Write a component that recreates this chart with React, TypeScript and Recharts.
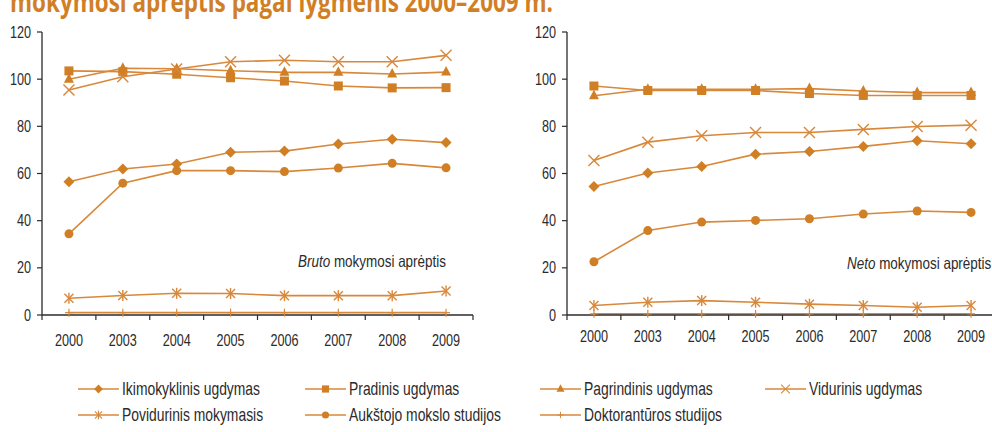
import { LineChart, Line, XAxis, YAxis } from 'recharts'

const years = ['2000', '2003', '2004', '2005', '2006', '2007', '2008', '2009']
const yTicks = [0, 20, 40, 60, 80, 100, 120]

// Bruto mokymosi aprėptis
const brutoIkimokyklinis = [56.5, 61.9, 64.0, 69.0, 69.5, 72.5, 74.5, 73.1]
const brutoPradinis = [103.5, 103.2, 102.1, 100.6, 99.2, 97.1, 96.3, 96.4]
const brutoPagrindinis = [100.0, 104.6, 104.4, 103.6, 102.9, 102.9, 102.2, 103.0]
const brutoVidurinis = [95.4, 101.0, 104.3, 107.4, 108.0, 107.4, 107.4, 110.1]
const brutoPovidurinis = [7.1, 8.3, 9.2, 9.1, 8.2, 8.2, 8.2, 10.2]
const brutoAukstojo = [34.4, 55.9, 61.2, 61.2, 60.8, 62.3, 64.3, 62.4]
const brutoDoktoranturos = [1.0, 1.0, 1.0, 1.0, 1.0, 1.0, 1.0, 1.0]

// Neto mokymosi aprėptis
const netoIkimokyklinis = [54.5, 60.2, 63.0, 68.2, 69.3, 71.5, 73.9, 72.6]
const netoPradinis = [97.1, 95.2, 95.2, 95.2, 93.9, 93.1, 93.1, 93.1]
const netoPagrindinis = [93.0, 95.7, 95.7, 95.7, 96.0, 95.0, 94.3, 94.3]
const netoVidurinis = [65.5, 73.3, 76.0, 77.4, 77.4, 78.7, 79.9, 80.5]
const netoPovidurinis = [4.0, 5.4, 6.1, 5.4, 4.6, 4.0, 3.3, 4.0]
const netoAukstojo = [22.6, 35.8, 39.4, 40.1, 40.8, 42.8, 44.1, 43.5]
const netoDoktoranturos = [0.5, 0.5, 0.5, 0.5, 0.5, 0.5, 0.5, 0.5]

const series = [
  { key: 'ikimokyklinis', name: 'Ikimokyklinis ugdymas', shape: 'diamond' },
  { key: 'pradinis', name: 'Pradinis ugdymas', shape: 'square' },
  { key: 'pagrindinis', name: 'Pagrindinis ugdymas', shape: 'triangle' },
  { key: 'vidurinis', name: 'Vidurinis ugdymas', shape: 'cross' },
  { key: 'povidurinis', name: 'Povidurinis mokymasis', shape: 'star' },
  { key: 'aukstojo', name: 'Aukštojo mokslo studijos', shape: 'circle' },
  { key: 'doktoranturos', name: 'Doktorantūros studijos', shape: 'plus' },
]

const buildData = (cols: Record<string, number[]>) =>
  years.map((year, i) => {
    const row: any = { year }
    Object.keys(cols).forEach(k => { row[k] = cols[k][i] })
    return row
  })

const brutoData = buildData({
  ikimokyklinis: brutoIkimokyklinis, pradinis: brutoPradinis, pagrindinis: brutoPagrindinis,
  vidurinis: brutoVidurinis, povidurinis: brutoPovidurinis, aukstojo: brutoAukstojo, doktoranturos: brutoDoktoranturos,
})
const netoData = buildData({
  ikimokyklinis: netoIkimokyklinis, pradinis: netoPradinis, pagrindinis: netoPagrindinis,
  vidurinis: netoVidurinis, povidurinis: netoPovidurinis, aukstojo: netoAukstojo, doktoranturos: netoDoktoranturos,
})

const ORANGE = '#d17f25'
const LINE = '#d8883a'
const TEXT = '#2b2b2b'
// no condensed font installed, so Liberation Sans gets squeezed horizontally
const FONT = "'Liberation Sans', Arial, sans-serif"
const SQUEEZE = 0.79
const CHART_W = 480
const Y_W = 42
const RIGHT_M = 7
const BAND = (CHART_W - Y_W - RIGHT_M) / years.length

function Marker({ shape, cx, cy }: { shape: string; cx: number; cy: number }) {
  switch (shape) {
    case 'diamond':
      return <polygon points={`${cx},${cy - 5.5} ${cx + 5.5},${cy} ${cx},${cy + 5.5} ${cx - 5.5},${cy}`} fill={ORANGE} />
    case 'square':
      return <rect x={cx - 4.5} y={cy - 4.5} width={9} height={9} fill={ORANGE} />
    case 'triangle':
      return <polygon points={`${cx},${cy - 6} ${cx + 5},${cy + 3.5} ${cx - 5},${cy + 3.5}`} fill={ORANGE} />
    case 'cross':
      return (
        <g stroke={LINE} strokeWidth={1.4}>
          <line x1={cx - 5.5} y1={cy - 5.5} x2={cx + 5.5} y2={cy + 5.5} />
          <line x1={cx - 5.5} y1={cy + 5.5} x2={cx + 5.5} y2={cy - 5.5} />
        </g>
      )
    case 'star':
      return (
        <g stroke={LINE} strokeWidth={1.4}>
          <line x1={cx - 4.5} y1={cy - 4.5} x2={cx + 4.5} y2={cy + 4.5} />
          <line x1={cx - 4.5} y1={cy + 4.5} x2={cx + 4.5} y2={cy - 4.5} />
          <line x1={cx} y1={cy - 5.5} x2={cx} y2={cy + 5.5} />
        </g>
      )
    case 'circle':
      return <circle cx={cx} cy={cy} r={4.5} fill={ORANGE} />
    case 'plus':
      return (
        <g stroke={LINE} strokeWidth={1.2}>
          <line x1={cx} y1={cy - 4} x2={cx} y2={cy + 4} />
          <line x1={cx - 4} y1={cy} x2={cx + 4} y2={cy} />
        </g>
      )
    default:
      return null
  }
}

const XTick = (props: any) => {
  const { x, y, payload, index, dy } = props
  const axisY = y - 6
  return (
    <g>
      <line x1={x - BAND / 2} y1={axisY} x2={x - BAND / 2} y2={axisY + 5} stroke={TEXT} strokeWidth={1.2} />
      {index === years.length - 1 && (
        <line x1={x + BAND / 2} y1={axisY} x2={x + BAND / 2} y2={axisY + 5} stroke={TEXT} strokeWidth={1.2} />
      )}
      <text transform={`translate(${x},${y + dy}) scale(${SQUEEZE},1)`} textAnchor="middle" fill={TEXT} fontSize={16} fontFamily={FONT}>
        {payload.value}
      </text>
    </g>
  )
}

const YTick = (props: any) => {
  const { x, y, payload } = props
  return (
    <text transform={`translate(${x},${y + 5.5}) scale(${SQUEEZE},1)`} textAnchor="end" fill={TEXT} fontSize={16} fontFamily={FONT}>
      {payload.value}
    </text>
  )
}

function Panel({ data, left, label, italic, labelX, labelY, tickDy }: any) {
  return (
    <div style={{ position: 'absolute', left, top: 0 }}>
      <LineChart width={CHART_W} height={360} data={data} margin={{ top: 32, right: RIGHT_M, left: 0, bottom: 15 }}>
        <XAxis
          dataKey="year"
          scale="band"
          interval={0}
          height={30}
          tickSize={6}
          tickMargin={0}
          tickLine={false}
          axisLine={{ stroke: TEXT, strokeWidth: 1.3 }}
          tick={<XTick dy={tickDy} />}
        />
        <YAxis
          domain={[0, 120]}
          ticks={yTicks}
          width={Y_W}
          tickSize={5}
          tickMargin={6}
          axisLine={{ stroke: TEXT, strokeWidth: 1.3 }}
          tickLine={{ stroke: TEXT, strokeWidth: 1.2 }}
          tick={<YTick />}
        />
        {series.map(s => (
          <Line
            key={s.key}
            dataKey={s.key}
            name={s.name}
            stroke={LINE}
            strokeWidth={1.6}
            isAnimationActive={false}
            dot={(p: any) => <Marker key={`${s.key}-${p.index}`} shape={s.shape} cx={p.cx} cy={p.cy} />}
            activeDot={false}
          />
        ))}
      </LineChart>
      <div style={{ position: 'absolute', left: labelX, top: labelY, fontFamily: FONT, fontSize: 16.5, color: TEXT, whiteSpace: 'nowrap', transform: 'scaleX(0.815)', transformOrigin: 'left center' }}>
        <i>{italic}</i> {label}
      </div>
    </div>
  )
}

const legendPos = [
  { x: 78, y: 389 }, { x: 305, y: 389 }, { x: 540, y: 389 }, { x: 765, y: 389 },
  { x: 78, y: 415 }, { x: 305, y: 415 }, { x: 540, y: 415 },
]

export default function App() {
  return (
    <div style={{ position: 'absolute', left: 0, top: 0, width: 992, height: 432, overflow: 'hidden', background: '#fff' }}>
      <svg width={992} height={22} style={{ position: 'absolute', left: 0, top: 0 }}>
        <text x={10} y={12} fill={ORANGE} fontSize={28} fontWeight="bold" fontFamily="'Open Sans', sans-serif" textLength={543} lengthAdjust="spacingAndGlyphs">
          mokymosi aprėptis pagal lygmenis 2000–2009 m.
        </text>
      </svg>
      <Panel data={brutoData} left={0} italic="Bruto" label="mokymosi aprėptis" labelX={298} labelY={252} tickDy={25} />
      <Panel data={netoData} left={525} italic="Neto" label="mokymosi aprėptis" labelX={322} labelY={254} tickDy={21} />
      {series.map((s, i) => (
        <div key={s.key} style={{ position: 'absolute', left: legendPos[i].x, top: legendPos[i].y - 11, display: 'flex', alignItems: 'center', height: 22 }}>
          <svg width={41} height={14}>
            <line x1={0} y1={7} x2={41} y2={7} stroke={LINE} strokeWidth={1.6} />
            <g transform="translate(4.1 1.4) scale(0.8)">
              <Marker shape={s.shape} cx={20.5} cy={7} />
            </g>
          </svg>
          <span style={{ marginLeft: 3, fontFamily: FONT, fontSize: 18.5, color: TEXT, whiteSpace: 'nowrap', transform: 'scaleX(0.75)', transformOrigin: 'left center', display: 'inline-block' }}>{s.name}</span>
        </div>
      ))}
    </div>
  )
}
